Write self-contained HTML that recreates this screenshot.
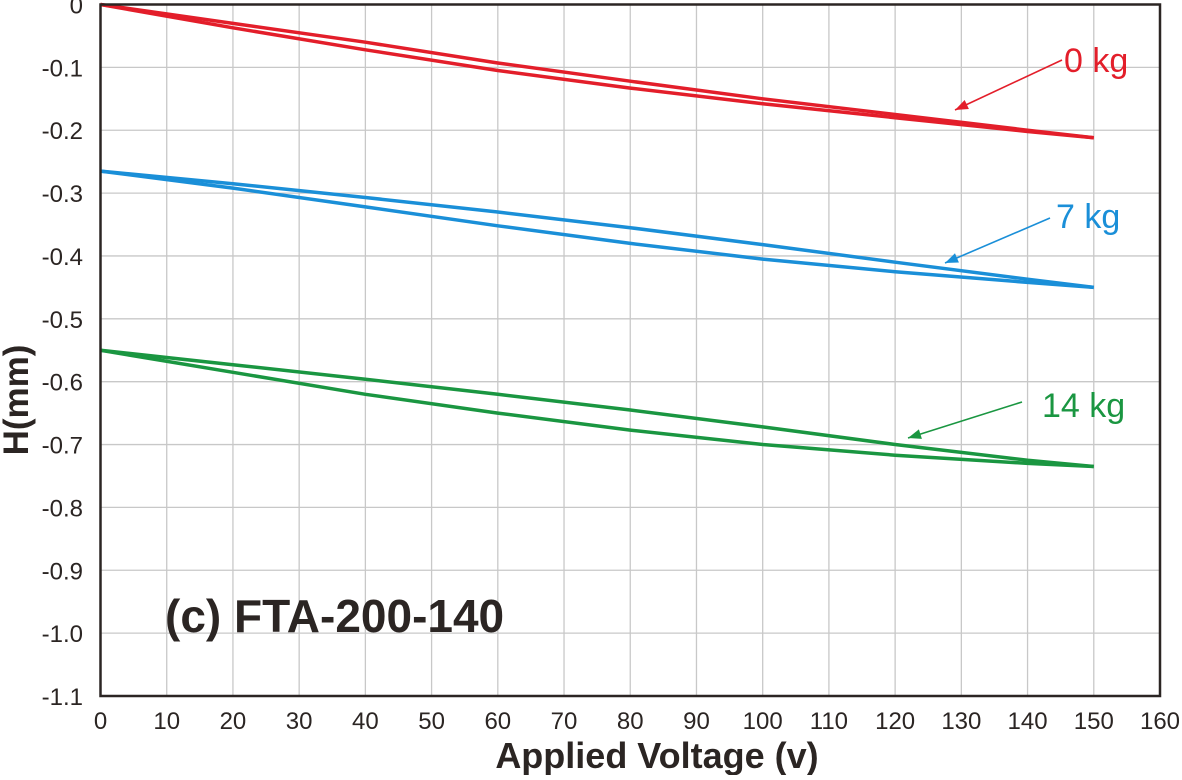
<!DOCTYPE html>
<html><head><meta charset="utf-8"><style>
body{margin:0;background:#fff}
svg text{font-family:"Liberation Sans",Arial,sans-serif;fill:#2b2523}
</style></head><body>
<svg id="chart" width="1182" height="775" xmlns="http://www.w3.org/2000/svg">
<g id="grid"></g>
<g id="series"></g>
<rect x="100.5" y="4.5" width="1059.5" height="691.5" fill="none" stroke="#2b2523" stroke-width="2.5"/>
<g id="ticks"></g>
<text x="657" y="768" font-size="36" font-weight="bold" text-anchor="middle">Applied Voltage (v)</text>
<text transform="translate(28,400) rotate(-90)" font-size="35" font-weight="bold" text-anchor="middle">H(mm)</text>
<text x="165" y="632" font-size="46" font-weight="bold">(c) FTA-200-140</text>
<g id="annotations"></g>
</svg>
<script>
const xTicks=[0,10,20,30,40,50,60,70,80,90,100,110,120,130,140,150,160];
const yTicks=[0,-0.1,-0.2,-0.3,-0.4,-0.5,-0.6,-0.7,-0.8,-0.9,-1.0,-1.1];
const yTickLabels=["0","-0.1","-0.2","-0.3","-0.4","-0.5","-0.6","-0.7","-0.8","-0.9","-1.0","-1.1"];
const voltages=[0,20,40,60,80,100,120,140,150];
const red1=[0,-0.03,-0.06,-0.093,-0.122,-0.15,-0.175,-0.2,-0.212];
const red2=[0,-0.037,-0.072,-0.105,-0.133,-0.158,-0.18,-0.202,-0.212];
const blue1=[-0.265,-0.285,-0.307,-0.33,-0.355,-0.382,-0.41,-0.437,-0.45];
const blue2=[-0.265,-0.292,-0.322,-0.352,-0.38,-0.405,-0.425,-0.442,-0.45];
const green1=[-0.55,-0.573,-0.596,-0.62,-0.645,-0.672,-0.7,-0.725,-0.735];
const green2=[-0.55,-0.585,-0.62,-0.65,-0.677,-0.7,-0.717,-0.73,-0.735];
const NS="http://www.w3.org/2000/svg";
const X=v=>100.5+v*(1059.5/160);
const Y=v=>4.5+(-v)*(691.5/1.1);
function mk(t,a,p){const e=document.createElementNS(NS,t);for(const k in a)e.setAttribute(k,a[k]);p.appendChild(e);return e;}
const grid=document.getElementById('grid'),ticks=document.getElementById('ticks');
xTicks.forEach(v=>{
 const l=mk('line',{x1:X(v),x2:X(v),y1:4.5,y2:696,stroke:'#c8c8c8','stroke-width':1.3},grid);
 
 
 const t=mk('text',{x:X(v),y:729,'font-size':24,'text-anchor':'middle'},ticks);t.textContent=v;
 
 
});
yTicks.forEach((v,i)=>{
 const l=mk('line',{x1:100.5,x2:1160,y1:Y(v),y2:Y(v),stroke:'#c8c8c8','stroke-width':1.3},grid);
 
 
 const t=mk('text',{x:83,y:Y(v)+9,'font-size':24,'text-anchor':'end'},ticks);t.textContent=yTickLabels[i];
 
 
});
const ser=document.getElementById('series');
function path(vals){return vals.map((v,i)=>(i?'L':'M')+X(voltages[i]).toFixed(1)+' '+Y(v).toFixed(1)).join(' ');}
[[red1,'#e31e2a','red-0kg-loading'],[red2,'#e31e2a','red-0kg-unloading'],[blue1,'#1a8fd8','blue-7kg-loading'],[blue2,'#1a8fd8','blue-7kg-unloading'],[green1,'#1a9641','green-14kg-loading'],[green2,'#1a9641','green-14kg-unloading']].forEach(s=>{
 const p=mk('path',{d:path(s[0]),fill:'none',stroke:s[1],'stroke-width':3.5,'stroke-linejoin':'round'},ser);
 
 
});
const ann=document.getElementById('annotations');
[['0 kg',1064,72,'#e31e2a',1062,60,955,110,'label-0kg'],['7 kg',1056,228,'#1a8fd8',1050,218,945,263,'label-7kg'],['14 kg',1042,417,'#1a9641',1022,402,908,438,'label-14kg']].forEach(a=>{
 const t=mk('text',{x:a[1],y:a[2],'font-size':34},ann);t.textContent=a[0];t.style.fill=a[3];
 
 
 const l=mk('line',{x1:a[4],y1:a[5],x2:a[6],y2:a[7],stroke:a[3],'stroke-width':1.6},ann);
 
 
 const dx=a[6]-a[4],dy=a[7]-a[5],L=Math.hypot(dx,dy),ux=dx/L,uy=dy/L;
 const bx=a[6]-ux*13,by=a[7]-uy*13;
 const h=mk('polygon',{points:`${a[6]},${a[7]} ${bx-uy*5},${by+ux*5} ${bx+uy*5},${by-ux*5}`,fill:a[3]},ann);
 
 
});
</script>
</body></html>
